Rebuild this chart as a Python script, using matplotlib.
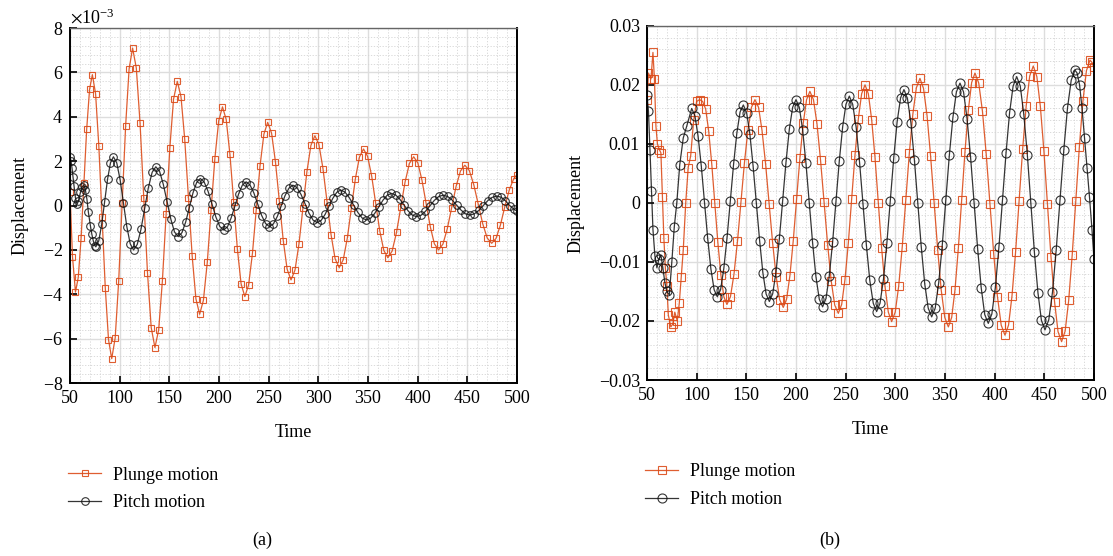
import numpy as np
import matplotlib
matplotlib.use("Agg")
import matplotlib.pyplot as plt
from matplotlib.ticker import MultipleLocator, FuncFormatter

plt.rcParams['font.family'] = ['Liberation Serif', 'DejaVu Serif']
plt.rcParams['mathtext.fontset'] = 'stix'

# ---- panel (a): values read in units of 1e-3 ----
tPlungeA = [50, 52.5, 55.5,
            58.3, 61.2, 64.0, 66.8, 69.7, 72.5,
            75.75, 79.0, 82.25, 85.5, 88.75, 92,
            95.5, 99, 102.5, 106, 109.5, 113,
            116.75, 120.5, 124.25, 128, 131.75, 135.5,
            139.25, 143, 146.75, 150.5, 154.25, 158,
            161.75, 165.5, 169.25, 173, 176.75, 180.5,
            184.3, 188.2, 192.0, 195.8, 199.7, 203.5,
            207.25, 211, 214.75, 218.5, 222.25, 226,
            229.8, 233.7, 237.5, 241.3, 245.2, 249,
            252.9, 256.8, 260.75, 264.7, 268.6, 272.5,
            276.5, 280.5, 284.5, 288.5, 292.5, 296.5,
            300.6, 304.7, 308.75, 312.8, 316.9, 321,
            325.1, 329.2, 333.25, 337.3, 341.4, 345.5,
            349.6, 353.7, 357.75, 361.8, 365.9, 370,
            374.3, 378.7, 383, 387.3, 391.7, 396,
            400.2, 404.3, 408.5, 412.7, 416.8, 421,
            425.4, 429.8, 434.25, 438.7, 443.1, 447.5,
            452, 456.5, 461, 465.5, 470, 474.5,
            478.9, 483.3, 487.75, 492.2, 496.6, 500]
plungeA = [0.6, -2.3, -3.9,
           -3.24, -1.45, 1.0, 3.45, 5.24, 5.9,
           5.04, 2.7, -0.5, -3.7, -6.04, -6.9,
           -5.96, -3.4, 0.1, 3.6, 6.16, 7.1,
           6.2, 3.73, 0.35, -3.03, -5.5, -6.4,
           -5.6, -3.4, -0.4, 2.6, 4.8, 5.6,
           4.9, 2.98, 0.35, -2.28, -4.2, -4.9,
           -4.27, -2.56, -0.22, 2.11, 3.82, 4.45,
           3.88, 2.31, 0.18, -1.96, -3.53, -4.1,
           -3.58, -2.14, -0.18, 1.79, 3.22, 3.75,
           3.27, 1.98, 0.2, -1.58, -2.87, -3.35,
           -2.91, -1.73, -0.1, 1.53, 2.71, 3.15,
           2.75, 1.66, 0.18, -1.31, -2.4, -2.8,
           -2.44, -1.46, -0.12, 1.21, 2.19, 2.55,
           2.22, 1.33, 0.1, -1.13, -2.02, -2.35,
           -2.05, -1.21, -0.08, 1.06, 1.9, 2.2,
           1.92, 1.15, 0.1, -0.95, -1.72, -2.0,
           -1.74, -1.05, -0.09, 0.87, 1.56, 1.82,
           1.58, 0.94, 0.06, -0.82, -1.46, -1.7,
           -1.48, -0.88, -0.05, 0.7, 1.2, 1.4]

tPitchA = [50, 51, 52, 53, 54, 55.5, 57, 58.5, 60.5, 62, 64, 65.5, 67, 68.5, 70.5, 72, 73.5, 75, 76,
           78.95, 81.9, 84.85, 87.8, 90.75, 93.7,
           97.1, 100.5, 103.85, 107.2, 110.6, 114,
           117.7, 121.5, 125.2, 128.9, 132.7, 136.4,
           140.2, 143.9, 147.7, 151.5, 155.2, 159,
           162.7, 166.4, 170.1, 173.8, 177.5, 181.2,
           185.1, 189.0, 193.0, 196.9, 200.8, 204.7,
           208.5, 212.2, 216.0, 219.8, 223.5, 227.3,
           231.2, 235.1, 239.05, 243.0, 246.9, 250.8,
           254.7, 258.7, 262.6, 266.5, 270.5, 274.4,
           278.5, 282.6, 286.65, 290.7, 294.8, 298.9,
           302.8, 306.8, 310.7, 314.6, 318.6, 322.5,
           326.8, 331.1, 335.45, 339.8, 344.1, 348.4,
           352.6, 356.8, 361.0, 365.2, 369.4, 373.6,
           377.8, 382.0, 386.2, 390.4, 394.6, 398.8,
           403.3, 407.8, 412.25, 416.7, 421.2, 425.7,
           430.2, 434.7, 439.15, 443.6, 448.1, 452.6,
           457.1, 461.6, 466.05, 470.5, 475.0, 479.5,
           483.9, 488.3, 492.7, 496.5, 500]
pitchA = [2.2, 2.0, 1.7, 1.3, 0.9, 0.35, 0.05, 0.2, 0.6, 0.85, 0.92, 0.7, 0.3, -0.3, -0.9, -1.3, -1.6, -1.8, -1.86,
          -1.59, -0.85, 0.17, 1.19, 1.93, 2.2,
          1.92, 1.15, 0.1, -0.95, -1.72, -2.0,
          -1.75, -1.06, -0.12, 0.81, 1.5, 1.75,
          1.54, 0.96, 0.18, -0.61, -1.19, -1.4,
          -1.22, -0.75, -0.09, 0.57, 1.04, 1.22,
          1.06, 0.64, 0.06, -0.52, -0.94, -1.1,
          -0.96, -0.56, -0.02, 0.53, 0.92, 1.07,
          0.93, 0.57, 0.06, -0.45, -0.81, -0.95,
          -0.83, -0.49, -0.02, 0.45, 0.79, 0.92,
          0.81, 0.5, 0.08, -0.35, -0.66, -0.77,
          -0.67, -0.4, -0.03, 0.33, 0.6, 0.7,
          0.61, 0.36, 0.03, -0.31, -0.56, -0.65,
          -0.57, -0.35, -0.05, 0.25, 0.47, 0.55,
          0.48, 0.29, 0.03, -0.24, -0.43, -0.5,
          -0.44, -0.26, -0.02, 0.23, 0.41, 0.47,
          0.41, 0.25, 0.02, -0.2, -0.37, -0.43,
          -0.37, -0.22, 0.0, 0.22, 0.37, 0.43,
          0.38, 0.22, 0.0, -0.15, -0.25]

# ---- panel (b): values read in units of 1e-2 ----
tPlungeB = [50, 51.5, 54, 56, 57.5, 59, 60.5, 62.5, 64, 65.5, 67, 68.5, 70, 71.5, 74, 76, 78, 80.5,
            82.5, 84.5, 86.5, 89, 91.5, 94, 97, 100, 103, 106,
            109.1, 112.1, 115.2, 118.25, 121.3, 124.4, 127.4, 130.5,
            134.0, 137.55, 141.1, 144.6, 148.1, 151.65, 155.2, 158.7,
            162.3, 165.8, 169.4, 172.95, 176.5, 180.1, 183.6, 187.2,
            190.55, 193.9, 197.25, 200.6, 203.95, 207.3, 210.65, 214,
            217.6, 221.15, 224.7, 228.3, 231.9, 235.45, 239.0, 242.6,
            246.0, 249.3, 252.7, 256.05, 259.4, 262.8, 266.1, 269.5,
            272.85, 276.2, 279.55, 282.9, 286.25, 289.6, 292.95, 296.3,
            299.9, 303.4, 307.0, 310.55, 314.1, 317.7, 321.2, 324.8,
            328.4, 331.95, 335.5, 339.1, 342.7, 346.25, 349.8, 353.4,
            356.75, 360.1, 363.45, 366.8, 370.15, 373.5, 376.85, 380.2,
            384.0, 387.75, 391.5, 395.3, 399.1, 402.85, 406.6, 410.4,
            414.0, 417.5, 421.1, 424.65, 428.2, 431.8, 435.3, 438.9,
            442.5, 446.0, 449.6, 453.15, 456.7, 460.3, 463.8, 467.4,
            471.0, 474.55, 478.1, 481.7, 485.3, 488.85, 492.4, 496,
            498, 500]
plungeB = [1.75, 2.2, 2.1, 2.55, 2.1, 1.3, 1.0, 0.9, 0.85, 0.1, -0.6, -1.1, -1.4, -1.9, -2.1, -2.05,
           -1.85, -2.0, -1.7, -1.25, -0.8, 0.0, 0.6, 0.8, 1.4, 1.72, 1.75, 1.72,
           1.59, 1.22, 0.66, 0.0, -0.66, -1.22, -1.59, -1.72,
           -1.59, -1.21, -0.65, 0.02, 0.68, 1.24, 1.62, 1.75,
           1.62, 1.23, 0.66, -0.01, -0.68, -1.25, -1.64, -1.77,
           -1.63, -1.23, -0.64, 0.06, 0.76, 1.35, 1.75, 1.89,
           1.75, 1.34, 0.73, 0.01, -0.71, -1.32, -1.73, -1.87,
           -1.72, -1.3, -0.68, 0.07, 0.81, 1.43, 1.85, 2.0,
           1.85, 1.41, 0.77, 0.0, -0.77, -1.41, -1.85, -2.01,
           -1.85, -1.41, -0.74, 0.05, 0.84, 1.51, 1.95, 2.11,
           1.94, 1.48, 0.8, 0.0, -0.8, -1.48, -1.94, -2.1,
           -1.94, -1.47, -0.77, 0.05, 0.87, 1.57, 2.04, 2.2,
           2.03, 1.55, 0.83, -0.02, -0.87, -1.59, -2.07, -2.24,
           -2.07, -1.57, -0.83, 0.04, 0.91, 1.65, 2.15, 2.32,
           2.14, 1.64, 0.88, -0.02, -0.91, -1.67, -2.18, -2.35,
           -2.17, -1.65, -0.88, 0.04, 0.95, 1.72, 2.24, 2.42,
           2.38, 2.3]

tPitchB = [50, 51.5, 53, 54.5, 56, 58, 60, 62, 64, 66, 68, 70, 72.5, 75, 77.5, 80, 83, 86.5, 90, 95,
           98.2, 101.45, 104.7, 107.9, 111.1, 114.35, 117.6, 120.8,
           124.1, 127.35, 130.6, 133.9, 137.2, 140.45, 143.7, 147,
           150.3, 153.55, 156.8, 160.1, 163.4, 166.65, 169.9, 173.2,
           176.55, 179.9, 183.25, 186.6, 189.95, 193.3, 196.65, 200,
           203.35, 206.7, 210.05, 213.4, 216.75, 220.1, 223.45, 226.8,
           230.2, 233.5, 236.9, 240.25, 243.6, 247.0, 250.3, 253.7,
           257.1, 260.6, 264.0, 267.45, 270.9, 274.3, 277.8, 281.2,
           284.6, 288.1, 291.5, 294.95, 298.4, 301.8, 305.3, 308.7,
           312.2, 315.7, 319.2, 322.65, 326.1, 329.6, 333.1, 336.6,
           340.2, 343.7, 347.3, 350.85, 354.4, 358.0, 361.5, 365.1,
           368.7, 372.2, 375.8, 379.35, 382.9, 386.5, 390.0, 393.6,
           397.2, 400.75, 404.3, 407.9, 411.5, 415.05, 418.6, 422.2,
           425.8, 429.3, 432.9, 436.45, 440.0, 443.6, 447.1, 450.7,
           454.5, 458.25, 462.0, 465.8, 469.6, 473.35, 477.1, 480.9,
           483, 485.5, 488, 490.5, 493, 495.5, 498, 500]
pitchB = [1.83, 1.55, 0.9, 0.2, -0.45, -0.9, -1.1, -0.95, -0.88, -1.1, -1.35, -1.5, -1.56, -1.0, -0.4,
          0.0, 0.65, 1.1, 1.3, 1.6,
          1.48, 1.13, 0.62, 0.0, -0.6, -1.12, -1.47, -1.59,
          -1.47, -1.11, -0.59, 0.04, 0.66, 1.18, 1.54, 1.66,
          1.53, 1.17, 0.63, 0.0, -0.64, -1.18, -1.54, -1.67,
          -1.54, -1.17, -0.61, 0.04, 0.69, 1.25, 1.62, 1.75,
          1.62, 1.24, 0.67, 0.0, -0.68, -1.25, -1.63, -1.76,
          -1.62, -1.24, -0.66, 0.03, 0.71, 1.29, 1.67, 1.81,
          1.67, 1.28, 0.69, -0.02, -0.72, -1.31, -1.7, -1.84,
          -1.7, -1.29, -0.68, 0.04, 0.76, 1.37, 1.78, 1.92,
          1.77, 1.36, 0.73, 0.0, -0.74, -1.37, -1.78, -1.93,
          -1.78, -1.35, -0.71, 0.05, 0.81, 1.45, 1.88, 2.03,
          1.88, 1.43, 0.77, 0.0, -0.78, -1.44, -1.89, -2.04,
          -1.88, -1.43, -0.75, 0.05, 0.85, 1.53, 1.98, 2.14,
          1.98, 1.51, 0.82, 0.0, -0.83, -1.52, -1.99, -2.15,
          -1.98, -1.51, -0.79, 0.05, 0.89, 1.61, 2.08, 2.25,
          2.2, 2.0, 1.6, 1.1, 0.6, 0.1, -0.45, -0.95]

plungeColor = '#DC4C1A'
pitchColor = '#111111'


def styleAxes(ax):
    ax.set_xlim(50, 500)
    ax.xaxis.set_major_locator(MultipleLocator(50))
    ax.xaxis.set_minor_locator(MultipleLocator(10))
    ax.grid(True, which='major', color='#dddddd', lw=1.0)
    ax.grid(True, which='minor', color='#d4d4d4', lw=0.6, ls=(0, (1.5, 2)))
    ax.set_axisbelow(True)
    ax.tick_params(which='major', direction='in', length=5, width=1.2, labelsize=13,
                   top=False, right=False, pad=5)
    ax.tick_params(which='minor', length=0)
    for side in ['left', 'bottom', 'right']:
        ax.spines[side].set_color('black')
        ax.spines[side].set_linewidth(1.4)
    ax.spines['top'].set_color('#666666')
    ax.spines['top'].set_linewidth(1.0)
    ax.set_xlabel('Time', fontsize=13, labelpad=12)
    ax.set_ylabel('Displacement', fontsize=13, labelpad=10)


def plotPair(ax, tPl, yPl, tPi, yPi, scale, msq, mci):
    ax.plot(tPl, np.array(yPl) * scale, color=plungeColor, lw=0.9, marker='s', ms=msq,
            mfc='none', mec=plungeColor, mew=0.8, alpha=0.9, label='Plunge motion')
    ax.plot(tPi, np.array(yPi) * scale, color=pitchColor, lw=0.9, marker='o', ms=mci,
            mfc='none', mec=pitchColor, mew=0.8, alpha=0.85, label='Pitch motion')
    ax.legend(loc='upper left', bbox_to_anchor=(-0.02, -0.215), frameon=False, fontsize=13,
              handlelength=1.8, handletextpad=0.7, labelspacing=0.6, borderaxespad=0)


fig = plt.figure(figsize=(11.13, 5.56), dpi=100)

axA = fig.add_axes([0.0629, 0.311, 0.4016, 0.6385])
plotPair(axA, tPlungeA, plungeA, tPitchA, pitchA, 1e-3, 5, 5.5)
styleAxes(axA)
axA.set_ylim(-8e-3, 8e-3)
axA.yaxis.set_major_locator(MultipleLocator(2e-3))
axA.yaxis.set_minor_locator(MultipleLocator(0.4e-3))
axA.ticklabel_format(axis='y', style='sci', scilimits=(0, 0), useMathText=True)
axA.yaxis.get_offset_text().set_fontsize(13)

axB = fig.add_axes([0.5813, 0.3165, 0.4016, 0.637])
plotPair(axB, tPlungeB, plungeB, tPitchB, pitchB, 1e-2, 5.5, 6.5)
styleAxes(axB)
axB.set_ylim(-0.03, 0.03)
axB.yaxis.set_major_locator(MultipleLocator(0.01))
axB.yaxis.set_minor_locator(MultipleLocator(0.002))
axB.yaxis.set_major_formatter(FuncFormatter(
    lambda v, p: '0' if abs(v) < 1e-9 else ('%.2f' % v).replace('-', '\u2212')))

fig.text(0.2354, 0.029, '(a)', ha='center', va='center', fontsize=13)
fig.text(0.7457, 0.029, '(b)', ha='center', va='center', fontsize=13)

fig.savefig('out.png', dpi=100)
